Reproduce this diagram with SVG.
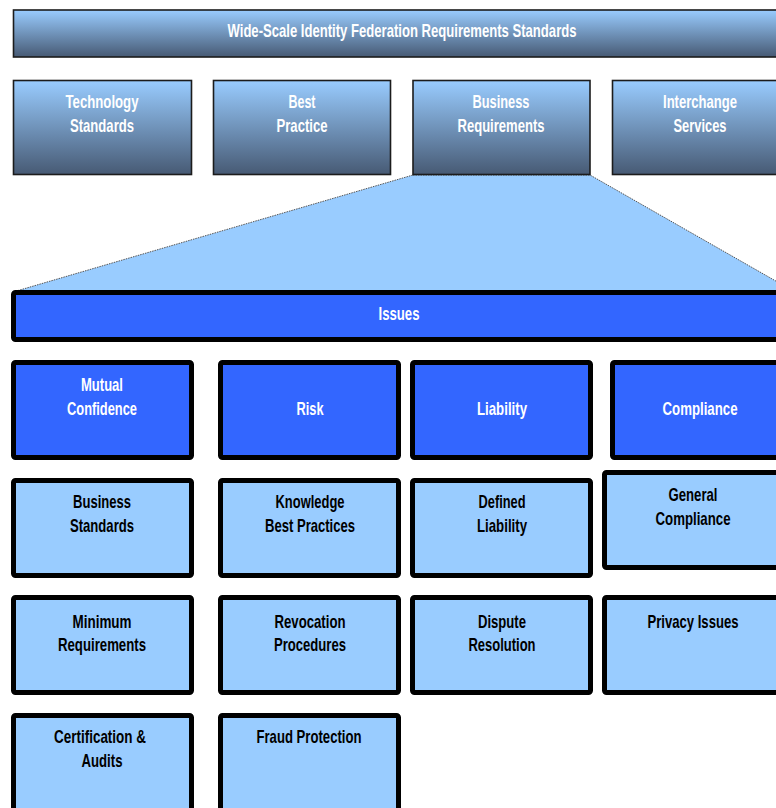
<svg xmlns="http://www.w3.org/2000/svg" width="776" height="808" viewBox="0 0 776 808">
<style>
text{font-family:"Liberation Sans",Arial,sans-serif;font-weight:bold;font-size:19px;text-anchor:middle}
.w{fill:#ffffff}
.k{fill:#000000}
.top{fill:url(#g);stroke:#1c1c1c;stroke-width:1.6}
.dk{fill:#3366ff;stroke:#000;stroke-width:5}
.lt{fill:#99ccff;stroke:#000;stroke-width:5}
</style>
<defs>
<linearGradient id="g" x1="0" y1="0" x2="0" y2="1">
<stop offset="0" stop-color="#99ccff"/>
<stop offset="1" stop-color="#475a74"/>
</linearGradient>
</defs>
<rect width="776" height="808" fill="#ffffff"/>
<g id="connectors">
<polygon points="413,175 590,175 795,292 13,292" fill="#99ccff" stroke="#555" stroke-width="1" stroke-dasharray="1.5,1"/>
</g>
<g id="title"><rect class="top" x="13.5" y="10" width="790" height="47"/><text class="w" x="402" y="37" textLength="349" lengthAdjust="spacingAndGlyphs">Wide-Scale Identity Federation Requirements Standards</text></g>
<g id="technology"><rect class="top" x="13.5" y="80.5" width="178" height="94"/><text class="w" x="102" y="108" textLength="73" lengthAdjust="spacingAndGlyphs">Technology</text><text class="w" x="102" y="132" textLength="64" lengthAdjust="spacingAndGlyphs">Standards</text></g>
<g id="bestpractice"><rect class="top" x="213.5" y="80.5" width="177" height="94"/><text class="w" x="302" y="108" textLength="27" lengthAdjust="spacingAndGlyphs">Best</text><text class="w" x="302" y="132" textLength="51" lengthAdjust="spacingAndGlyphs">Practice</text></g>
<g id="businessreq"><rect class="top" x="413" y="80.5" width="177" height="94"/><text class="w" x="501" y="108" textLength="57" lengthAdjust="spacingAndGlyphs">Business</text><text class="w" x="501" y="132" textLength="87" lengthAdjust="spacingAndGlyphs">Requirements</text></g>
<g id="interchange"><rect class="top" x="612.5" y="80.5" width="190" height="94"/><text class="w" x="700" y="108" textLength="74" lengthAdjust="spacingAndGlyphs">Interchange</text><text class="w" x="700" y="132" textLength="53" lengthAdjust="spacingAndGlyphs">Services</text></g>
<g id="issues"><rect class="dk" x="13.5" y="292.5" width="790" height="47" rx="2"/><text class="w" x="399" y="320" textLength="41" lengthAdjust="spacingAndGlyphs">Issues</text></g>
<g id="mutual"><rect class="dk" x="13.5" y="362.5" width="178" height="95" rx="2"/><text class="w" x="102" y="391" textLength="42" lengthAdjust="spacingAndGlyphs">Mutual</text><text class="w" x="102" y="415" textLength="70" lengthAdjust="spacingAndGlyphs">Confidence</text></g>
<g id="risk"><rect class="dk" x="220.5" y="362.5" width="178" height="95" rx="2"/><text class="w" x="310" y="415" textLength="27" lengthAdjust="spacingAndGlyphs">Risk</text></g>
<g id="liability"><rect class="dk" x="412.5" y="362.5" width="178" height="95" rx="2"/><text class="w" x="502" y="415" textLength="50" lengthAdjust="spacingAndGlyphs">Liability</text></g>
<g id="compliance"><rect class="dk" x="612.5" y="362.5" width="190" height="95" rx="2"/><text class="w" x="700" y="415" textLength="75" lengthAdjust="spacingAndGlyphs">Compliance</text></g>
<g id="busstandards"><rect class="lt" x="13.5" y="480.5" width="178" height="95" rx="2"/><text class="k" x="102" y="508" textLength="58" lengthAdjust="spacingAndGlyphs">Business</text><text class="k" x="102" y="532" textLength="64" lengthAdjust="spacingAndGlyphs">Standards</text></g>
<g id="knowledge"><rect class="lt" x="220.5" y="480.5" width="178" height="95" rx="2"/><text class="k" x="310" y="508" textLength="69" lengthAdjust="spacingAndGlyphs">Knowledge</text><text class="k" x="310" y="532" textLength="90" lengthAdjust="spacingAndGlyphs">Best Practices</text></g>
<g id="definedliability"><rect class="lt" x="412.5" y="480.5" width="178" height="95" rx="2"/><text class="k" x="502" y="508" textLength="47" lengthAdjust="spacingAndGlyphs">Defined</text><text class="k" x="502" y="532" textLength="50" lengthAdjust="spacingAndGlyphs">Liability</text></g>
<g id="generalcompliance"><rect class="lt" x="604.5" y="472.5" width="200" height="95" rx="2"/><text class="k" x="693" y="501" textLength="49" lengthAdjust="spacingAndGlyphs">General</text><text class="k" x="693" y="525" textLength="75" lengthAdjust="spacingAndGlyphs">Compliance</text></g>
<g id="minimum"><rect class="lt" x="13.5" y="597.5" width="178" height="95" rx="2"/><text class="k" x="102" y="628" textLength="59" lengthAdjust="spacingAndGlyphs">Minimum</text><text class="k" x="102" y="651" textLength="88" lengthAdjust="spacingAndGlyphs">Requirements</text></g>
<g id="revocation"><rect class="lt" x="220.5" y="597.5" width="178" height="95" rx="2"/><text class="k" x="310" y="628" textLength="71" lengthAdjust="spacingAndGlyphs">Revocation</text><text class="k" x="310" y="651" textLength="72" lengthAdjust="spacingAndGlyphs">Procedures</text></g>
<g id="dispute"><rect class="lt" x="412.5" y="597.5" width="178" height="95" rx="2"/><text class="k" x="502" y="628" textLength="48" lengthAdjust="spacingAndGlyphs">Dispute</text><text class="k" x="502" y="651" textLength="67" lengthAdjust="spacingAndGlyphs">Resolution</text></g>
<g id="privacy"><rect class="lt" x="604.5" y="597.5" width="200" height="95" rx="2"/><text class="k" x="693" y="628" textLength="91" lengthAdjust="spacingAndGlyphs">Privacy Issues</text></g>
<g id="certification"><rect class="lt" x="13.5" y="715.5" width="178" height="100" rx="2"/><text class="k" x="100" y="743" textLength="92" lengthAdjust="spacingAndGlyphs">Certification &amp;</text><text class="k" x="102" y="767" textLength="41" lengthAdjust="spacingAndGlyphs">Audits</text></g>
<g id="fraud"><rect class="lt" x="220.5" y="715.5" width="178" height="100" rx="2"/><text class="k" x="309" y="743" textLength="105" lengthAdjust="spacingAndGlyphs">Fraud Protection</text></g>
</svg>
